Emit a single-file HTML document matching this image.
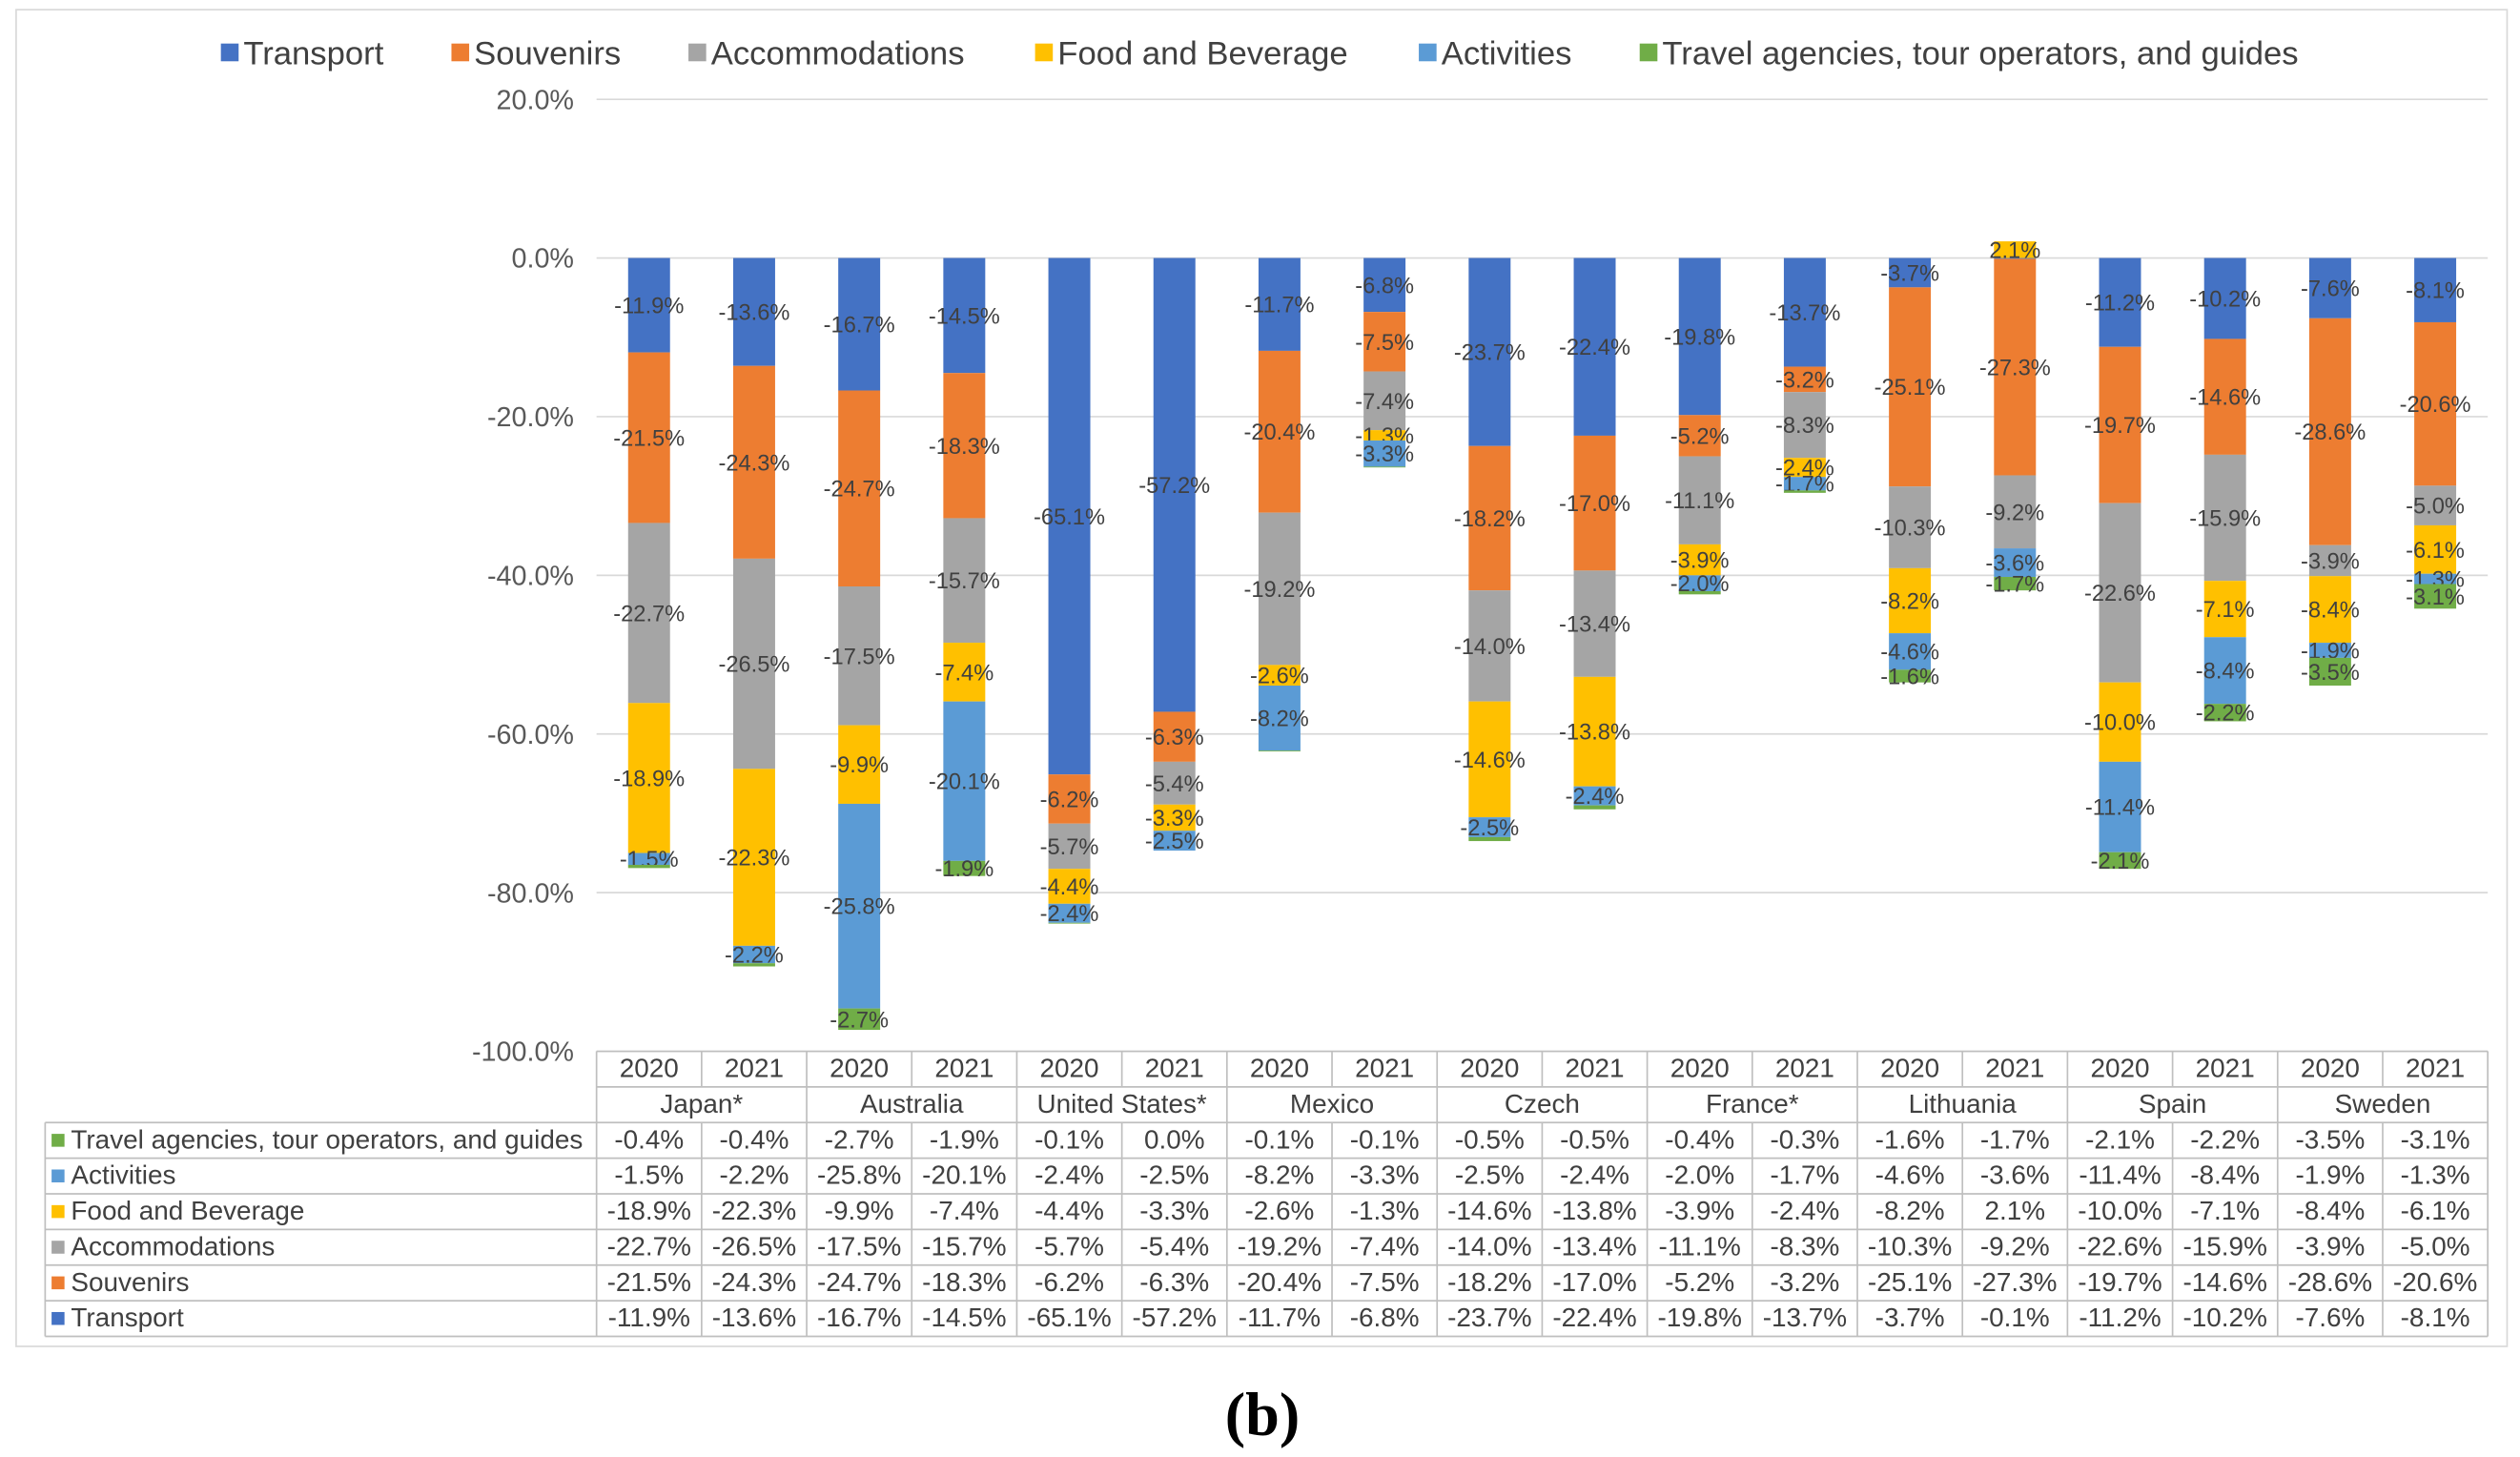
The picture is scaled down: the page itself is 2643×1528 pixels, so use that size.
<!DOCTYPE html>
<html><head><meta charset="utf-8"><style>
html,body{margin:0;padding:0;background:#fff;}
svg{display:block;font-family:"Liberation Sans",Arial,sans-serif;}
</style></head><body>
<svg id="chart" width="2643" height="1528" viewBox="0 0 1563 903.6" xmlns="http://www.w3.org/2000/svg">
<rect x="0" y="0" width="1563" height="904" fill="#fff"/>
<rect x="10" y="6" width="1545" height="829" fill="none" stroke="#d9d9d9" stroke-width="1"/>
<g id="grid"></g><g id="bars"></g><g id="axis"></g><g id="table"></g><g id="legend"></g>
<text x="783" y="890" text-anchor="middle" font-family="Liberation Serif, serif" font-weight="bold" font-size="38">(b)</text>
</svg>
<script>
const countries=["Japan*","Australia","United States*","Mexico","Czech","France*","Lithuania","Spain","Sweden"];
const years=["2020","2021"];
const seriesNames=["Transport","Souvenirs","Accommodations","Food and Beverage","Activities","Travel agencies, tour operators, and guides"];
const transport=[-11.9,-13.6,-16.7,-14.5,-65.1,-57.2,-11.7,-6.8,-23.7,-22.4,-19.8,-13.7,-3.7,-0.1,-11.2,-10.2,-7.6,-8.1];
const souvenirs=[-21.5,-24.3,-24.7,-18.3,-6.2,-6.3,-20.4,-7.5,-18.2,-17.0,-5.2,-3.2,-25.1,-27.3,-19.7,-14.6,-28.6,-20.6];
const accommodations=[-22.7,-26.5,-17.5,-15.7,-5.7,-5.4,-19.2,-7.4,-14.0,-13.4,-11.1,-8.3,-10.3,-9.2,-22.6,-15.9,-3.9,-5.0];
const food=[-18.9,-22.3,-9.9,-7.4,-4.4,-3.3,-2.6,-1.3,-14.6,-13.8,-3.9,-2.4,-8.2,2.1,-10.0,-7.1,-8.4,-6.1];
const activities=[-1.5,-2.2,-25.8,-20.1,-2.4,-2.5,-8.2,-3.3,-2.5,-2.4,-2.0,-1.7,-4.6,-3.6,-11.4,-8.4,-1.9,-1.3];
const travel=[-0.4,-0.4,-2.7,-1.9,-0.1,0.0,-0.1,-0.1,-0.5,-0.5,-0.4,-0.3,-1.6,-1.7,-2.1,-2.2,-3.5,-3.1];
const yTicks=[20,0,-20,-40,-60,-80,-100];
const colors=["#4472C4","#ED7D31","#A5A5A5","#FFC000","#5B9BD5","#70AD47"];
const series=[transport,souvenirs,accommodations,food,activities,travel];
const NS="http://www.w3.org/2000/svg";
function mk(tag,attrs,parent,txt){const e=document.createElementNS(NS,tag);for(const k in attrs)e.setAttribute(k,attrs[k]);if(txt!==undefined)e.textContent=txt;parent.appendChild(e);return e;}
const plotL=370,plotR=1543,y0=160,pxPer=98.4/20;
const colW=(plotR-plotL)/18;
function yS(v){return y0-v*pxPer;}
function xC(i){return plotL+colW*(i+0.5);}
const fmt=v=>v.toFixed(1)+"%";
const grid=document.getElementById('grid'),axis=document.getElementById('axis'),bars=document.getElementById('bars'),table=document.getElementById('table'),legend=document.getElementById('legend');
yTicks.forEach(t=>{
 const g=mk('line',{x1:plotL,x2:plotR,y1:yS(t),y2:yS(t),stroke:'#d9d9d9','stroke-width':1},grid);
 
 
 const l=mk('text',{x:356,y:yS(t)+6,'text-anchor':'end','font-size':17,fill:'#595959'},axis,t.toFixed(1)+"%");
 
 
});
for(let i=0;i<18;i++){
 let neg=0,pos=0;
 for(let s=0;s<6;s++){
  const v=series[s][i];if(v===0)continue;
  let top,bot;
  if(v<0){top=neg;bot=neg+v;neg=bot;}else{bot=pos;top=pos+v;pos=top;}
  const r=mk('rect',{x:xC(i)-13,y:yS(top),width:26,height:yS(bot)-yS(top),fill:colors[s]},bars);
  
  
  if(Math.abs(v)<1)continue;
  const t=mk('text',{x:xC(i),y:(yS(top)+yS(bot))/2+5,'text-anchor':'middle','font-size':14,fill:'#404040'},bars,fmt(v));
  
  
 }
}
const tTop=652,rowH=22.1,tableL=28;
const rowY=k=>tTop+rowH*k;
function ln(x1,y1,x2,y2){const l=mk('line',{x1,y1,x2,y2,stroke:'#bfbfbf','stroke-width':1},table);}
ln(plotL,rowY(0),plotR,rowY(0));
ln(plotL,rowY(1),plotR,rowY(1));
for(let k=2;k<=8;k++)ln(tableL,rowY(k),plotR,rowY(k));
for(let i=0;i<=18;i++){const x=plotL+colW*i;
 if(i%2===0)ln(x,rowY(0),x,rowY(8));else{ln(x,rowY(0),x,rowY(1));ln(x,rowY(2),x,rowY(8));}}
ln(tableL,rowY(2),tableL,rowY(8));
const fs=16.5;
for(let i=0;i<18;i++){const t=mk('text',{x:xC(i),y:rowY(0)+16,'text-anchor':'middle','font-size':fs,fill:'#404040'},table,years[i%2]);}
countries.forEach((c,j)=>{const t=mk('text',{x:plotL+colW*(2*j+1),y:rowY(1)+16,'text-anchor':'middle','font-size':fs,fill:'#404040'},table,c);});
for(let r=0;r<6;r++){const s=5-r;const y=rowY(2+r);
 const m=mk('rect',{x:32,y:y+7,width:8,height:8,fill:colors[s]},table);
 const n=mk('text',{x:44,y:y+16,'font-size':fs,fill:'#404040'},table,seriesNames[s]);
 for(let i=0;i<18;i++){const t=mk('text',{x:xC(i),y:y+16,'text-anchor':'middle','font-size':fs,fill:'#404040'},table,fmt(series[s][i]));}
}
const legX=[137,280,427,642,880,1017];
seriesNames.forEach((n,s)=>{
 const m=mk('rect',{x:legX[s],y:27,width:11,height:11,fill:colors[s]},legend);
 const t=mk('text',{x:legX[s]+14,y:40,'font-size':20.5,fill:'#404040'},legend,n);
});
</script>
</body></html>
